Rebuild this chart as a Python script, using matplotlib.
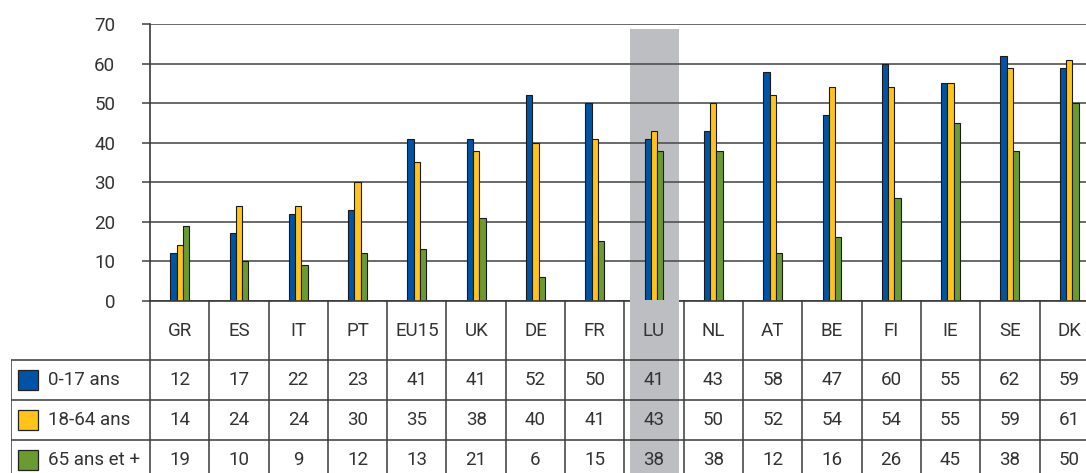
import matplotlib
matplotlib.use("Agg")
import matplotlib.pyplot as plt
from matplotlib.patches import Rectangle
import numpy as np

plt.rcParams['font.family'] = ['Roboto', 'DejaVu Sans']

categories = ["GR", "ES", "IT", "PT", "EU15", "UK", "DE", "FR", "LU",
              "NL", "AT", "BE", "FI", "IE", "SE", "DK"]
series_names = ["0-17 ans", "18-64 ans", "65 ans et +"]
age_0_17 = [12, 17, 22, 23, 41, 41, 52, 50, 41, 43, 58, 47, 60, 55, 62, 59]
age_18_64 = [14, 24, 24, 30, 35, 38, 40, 41, 43, 50, 52, 54, 54, 55, 59, 61]
age_65_plus = [19, 10, 9, 12, 13, 21, 6, 15, 38, 38, 12, 16, 26, 45, 38, 50]
highlight = "LU"
yticks = [0, 10, 20, 30, 40, 50, 60, 70]

series = [age_0_17, age_18_64, age_65_plus]
colors = ["#0053A5", "#FFC417", "#6A9B31"]
gray = "#BDBEC2"
line_c = "#3a3a3a"
text_c = "#333333"
fs = 13.5

W, H = 1086, 473
fig = plt.figure(figsize=(W / 100, H / 100), dpi=100)

col_w = 59.3
x0 = 150
n = len(categories)
# chart axes
ax = fig.add_axes([x0 / W, (H - 300.5) / H, n * col_w / W, 276.3 / H])
ax.set_xlim(0, n)
ax.set_ylim(0, 70)
hi = categories.index(highlight)
ax.axvspan(hi + 0.1, hi + 0.92, ymin=0, ymax=68.7 / 70, color=gray, zorder=0.2, lw=0)

bw = 0.106
idx = np.arange(n) + 0.5
for k, (vals, c) in enumerate(zip(series, colors)):
    ax.bar(idx + (k - 1) * bw, vals, width=bw, color=c, edgecolor="#1a1a1a",
           linewidth=0.8, zorder=2)

ax.set_yticks(yticks)
ax.set_yticklabels([str(v) for v in yticks], fontsize=fs, color=text_c)
ax.set_xticks([])
ax.yaxis.grid(True, color="#505050", lw=1.2)
ax.set_axisbelow(True)
ax.tick_params(axis="y", length=6, width=1.2, color="#505050", pad=19)
for s in ["top", "right"]:
    ax.spines[s].set_visible(False)
ax.spines["left"].set_color(line_c)
ax.spines["left"].set_linewidth(1.2)
ax.spines["bottom"].set_color(line_c)
ax.spines["bottom"].set_linewidth(1.2)

# table axes
tl = 11
tab_right = x0 + n * col_w
tax = fig.add_axes([tl / W, (H - 480) / H, (tab_right - tl) / W, 180 / H])
xmin = -(x0 - tl) / col_w
tax.set_xlim(xmin, n)
tax.set_ylim(180, 0)
tax.axis("off")
tax.add_patch(Rectangle((hi + 0.1, 0), 0.82, 180, color=gray, lw=0, zorder=0.2))

lkw = dict(color=line_c, lw=1.1, zorder=3, solid_capstyle="butt")
for y in [60, 100, 140, 180]:
    tax.plot([xmin, n], [y, y], **lkw)
for i in range(n + 1):
    tax.plot([i, i], [0, 180], **lkw)
tax.plot([xmin, xmin], [60, 180], **lkw)

for i, cat in enumerate(categories):
    tax.text(i + 0.5, 31, cat, ha="center", va="center", fontsize=fs, color=text_c, zorder=4)
row_y = [79.5, 120, 159.5]
for r, (vals, c, name) in enumerate(zip(series, colors, series_names)):
    y = row_y[r]
    for i, v in enumerate(vals):
        tax.text(i + 0.5, y, str(v), ha="center", va="center", fontsize=fs,
                 color=text_c, zorder=4)
    sx = xmin + 7 / col_w
    tax.add_patch(Rectangle((sx, y - 10), 20 / col_w, 20, facecolor=c,
                            edgecolor="#222222", lw=0.9, zorder=4))
    tax.text(xmin + 37 / col_w, y, name, ha="left", va="center", fontsize=fs,
             color=text_c, zorder=4)

fig.savefig("out.png", dpi=100)
